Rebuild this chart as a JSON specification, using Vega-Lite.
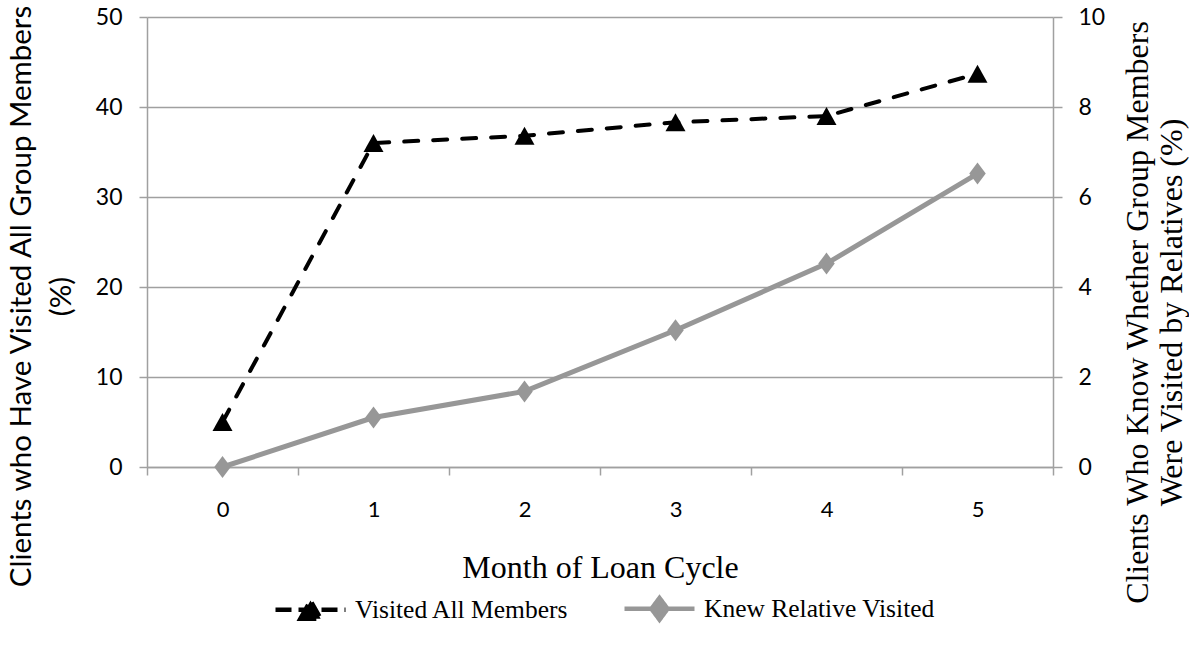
{
  "$schema": "https://vega.github.io/schema/vega-lite/v6.json",
  "width": 906,
  "height": 450,
  "padding": {"left": 5, "top": 3, "right": 2, "bottom": 5},
  "background": "#ffffff",
  "config": {"view": {"stroke": null}, "font": "Lato"},
  "data": {
    "values": [
      {"month": "0", "series": "Visited All Members", "value": 5.0},
      {"month": "1", "series": "Visited All Members", "value": 36.0},
      {"month": "2", "series": "Visited All Members", "value": 36.8},
      {"month": "3", "series": "Visited All Members", "value": 38.3},
      {"month": "4", "series": "Visited All Members", "value": 39.0},
      {"month": "5", "series": "Visited All Members", "value": 43.7},
      {"month": "0", "series": "Knew Relative Visited", "value": 0.0},
      {"month": "1", "series": "Knew Relative Visited", "value": 1.1},
      {"month": "2", "series": "Knew Relative Visited", "value": 1.68},
      {"month": "3", "series": "Knew Relative Visited", "value": 3.04},
      {"month": "4", "series": "Knew Relative Visited", "value": 4.52},
      {"month": "5", "series": "Knew Relative Visited", "value": 6.52}
    ]
  },
  "layer": [
    {
      "transform": [{"filter": "datum.series === 'Visited All Members'"}],
      "mark": {"type": "line", "color": "#000000", "strokeWidth": 4, "strokeCap": "round", "strokeDash": [14, 15], "point": {"shape": "M0,-0.9L1,0.9L-1,0.9Z", "filled": true, "color": "#000000", "size": 400, "opacity": 1}},
      "encoding": {
        "x": {
          "field": "month", "type": "ordinal",
          "scale": {"type": "band", "paddingInner": 0, "paddingOuter": 0},
          "axis": {
            "labelAngle": 0, "tickBand": "extent", "tickSize": 8, "tickWidth": 1.5, "tickColor": "#a0a0a0",
            "domainColor": "#a0a0a0", "domainWidth": 1.5, "grid": false,
            "labelFont": "Lato", "labelFontSize": 22, "labelColor": "#000000", "labelPadding": 24,
            "title": "Month of Loan Cycle", "titleFont": "Liberation Serif", "titleFontSize": 32,
            "titleFontWeight": "normal", "titleColor": "#000000", "titlePadding": 32
          }
        },
        "y": {
          "field": "value", "type": "quantitative",
          "scale": {"domain": [0, 50], "nice": false},
          "axis": {
            "orient": "left", "values": [0, 10, 20, 30, 40, 50], "grid": true, "gridColor": "#a0a0a0", "gridWidth": 1.5,
            "domainColor": "#a0a0a0", "domainWidth": 1.5, "tickColor": "#a0a0a0", "tickSize": 8, "tickWidth": 1.5,
            "labelFont": "Lato", "labelFontSize": 23, "labelColor": "#000000", "labelPadding": 17,
            "title": ["Clients who Have Visited All Group Members", "(%)"],
            "titleFont": "Lato", "titleFontSize": 29.5, "titleFontWeight": "normal", "titleColor": "#000000",
            "titleLineHeight": 40, "titleBaseline": "bottom", "titleX": -111, "titleY": 279
          }
        }
      }
    },
    {
      "transform": [{"filter": "datum.series === 'Knew Relative Visited'"}],
      "mark": {"type": "line", "color": "#979797", "strokeWidth": 5, "point": {"shape": "M0,-1L0.75,0L0,1L-0.75,0Z", "filled": true, "color": "#979797", "size": 484, "opacity": 1}},
      "encoding": {
        "x": {"field": "month", "type": "ordinal", "scale": {"type": "band", "paddingInner": 0, "paddingOuter": 0}},
        "y": {
          "field": "value", "type": "quantitative",
          "scale": {"domain": [0, 10], "nice": false},
          "axis": {
            "orient": "right", "values": [0, 2, 4, 6, 8, 10], "grid": false,
            "domainColor": "#a0a0a0", "domainWidth": 1.5, "tickColor": "#a0a0a0", "tickSize": 9, "tickWidth": 1.5,
            "labelFont": "Lato", "labelFontSize": 23, "labelColor": "#000000", "labelPadding": 16,
            "title": ["Clients Who Know Whether Group Members", "Were Visited by Relatives (%)"],
            "titleFont": "Liberation Serif", "titleFontSize": 32, "titleFontWeight": "normal", "titleColor": "#000000",
            "titleAngle": 270, "titleBaseline": "top", "titleLineHeight": 34, "titleX": 69, "titleY": 295
          }
        }
      }
    },
    {
      "mark": {"type": "point", "opacity": 1, "filled": true, "size": 0},
      "encoding": {
        "x": {"field": "month", "type": "ordinal", "scale": {"type": "band", "paddingInner": 0, "paddingOuter": 0}},
        "fill": {
          "field": "series", "type": "nominal",
          "scale": {"domain": ["Visited All Members", "Knew Relative Visited"], "range": ["#000000", "#979797"]},
          "legend": {
            "orient": "none", "legendX": 126, "legendY": 554, "direction": "horizontal", "title": null,
            "symbolSize": 4900, "symbolOpacity": 1, "symbolStrokeWidth": 4.5,
            "labelFont": "Liberation Serif", "labelFontSize": 25.5, "labelColor": "#000000",
            "labelOffset": 7, "columnPadding": 46, "labelLimit": 400
          }
        },
        "stroke": {
          "field": "series", "type": "nominal",
          "scale": {"domain": ["Visited All Members", "Knew Relative Visited"], "range": ["#000000", "#979797"]}
        },
        "shape": {
          "field": "series", "type": "nominal",
          "scale": {"domain": ["Visited All Members", "Knew Relative Visited"], "range": ["M-1,0L1,0M-0.29,0.26L0,-0.26L0.29,0.26Z", "M-1,0L1,0M0,-0.31L0.23,0L0,0.31L-0.23,0Z"]}
        },
        "strokeDash": {
          "field": "series", "type": "nominal",
          "scale": {"domain": ["Visited All Members", "Knew Relative Visited"], "range": [[16, 7], [1, 0]]}
        }
      }
    }
  ],
  "resolve": {"scale": {"y": "independent"}}
}
